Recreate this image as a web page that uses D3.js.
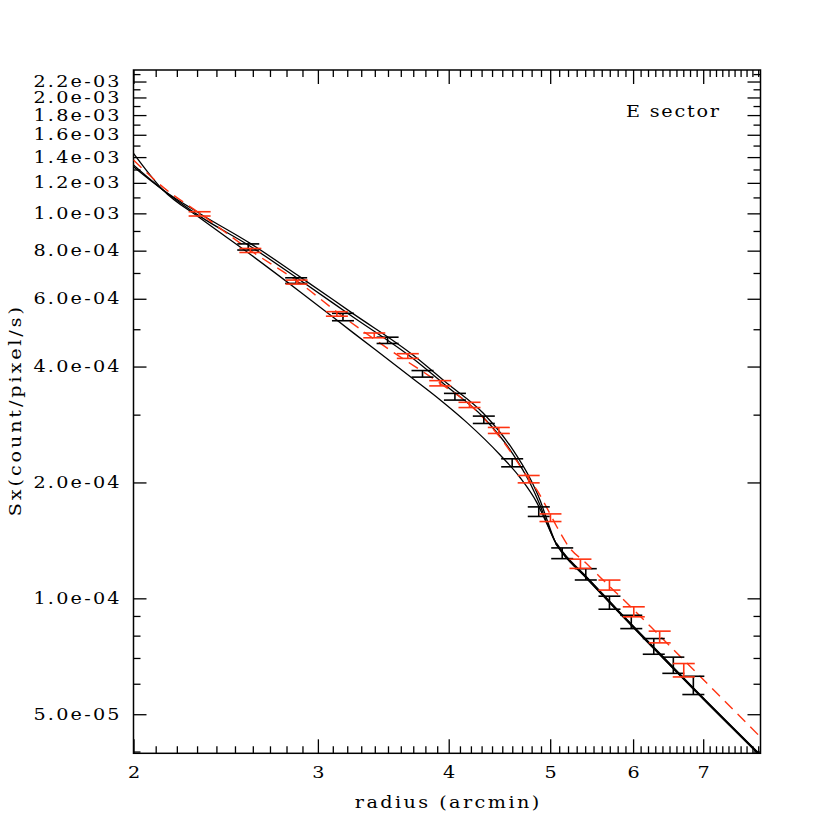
<!DOCTYPE html>
<html>
<head>
<meta charset="utf-8">
<script src="https://cdn.jsdelivr.net/npm/d3@7"></script>
<style>
  body { margin: 0; background: #fff; }
  text { font-family: "DejaVu Serif", serif; font-size: 16px; fill: #000; }
</style>
</head>
<body>
<svg></svg>
<script>
const width = 830;
const height = 830;

// measured points (radius in arcmin, surface brightness)
const blackR = [2.574, 2.860, 3.170, 3.497, 3.776, 4.055, 4.321, 4.599, 4.876, 5.134, 5.407, 5.696, 5.976, 6.279, 6.555, 6.850];
const blackS = [8.18e-4, 6.69e-4, 5.38e-4, 4.68e-4, 3.83e-4, 3.34e-4, 2.91e-4, 2.25e-4, 1.68e-4, 1.31e-4, 1.155e-4, 9.75e-5, 8.69e-5, 7.51e-5, 6.71e-5, 5.95e-5];
const blackErr = [1.5e-5, 1.12e-5, 1.19e-5, 8.8e-6, 7.5e-6, 6.7e-6, 6.4e-6, 5.4e-6, 4.8e-6, 4.2e-6, 3.9e-6, 3.8e-6, 3.46e-6, 3.52e-6, 3.25e-6, 3.25e-6];

const redR = [2.313, 2.586, 2.863, 3.128, 3.396, 3.656, 3.926, 4.187, 4.466, 4.769, 5.003, 5.344, 5.696, 6.009, 6.361, 6.707];
const redS = [9.97e-4, 8.01e-4, 6.63e-4, 5.48e-4, 4.82e-4, 4.26e-4, 3.62e-4, 3.18e-4, 2.73e-4, 2.04e-4, 1.62e-4, 1.23e-4, 1.083e-4, 9.23e-5, 7.94e-5, 6.51e-5];
const redErr = [1.28e-5, 9.6e-6, 7.9e-6, 7.4e-6, 6.9e-6, 6.0e-6, 5.7e-6, 5.0e-6, 4.9e-6, 4.5e-6, 3.7e-6, 3.4e-6, 3.24e-6, 2.76e-6, 2.78e-6, 2.61e-6];

// black model curves (upper / middle / lower), they join into one tail
const upperR = [2.000, 2.134, 2.315, 2.583, 2.884, 3.241, 3.698, 3.985, 4.314, 4.607, 4.783, 4.889, 4.965, 5.064];
const upperS = [1.321e-3, 1.150e-3, 9.98e-4, 8.37e-4, 6.84e-4, 5.49e-4, 4.285e-4, 3.62e-4, 3.03e-4, 2.43e-4, 2.05e-4, 1.80e-4, 1.60e-4, 1.39e-4];
const middleS = [1.335e-3, 1.150e-3, 9.82e-4, 8.225e-4, 6.71e-4, 5.38e-4, 4.196e-4, 3.549e-4, 2.957e-4, 2.37e-4, 1.993e-4, 1.747e-4, 1.569e-4, 1.39e-4];
const lowerR = [2.000, 2.134, 2.315, 2.583, 2.884, 3.241, 3.698, 3.924, 4.164, 4.477, 4.679, 4.857, 4.965, 5.064];
const lowerS = [1.432e-3, 1.150e-3, 9.72e-4, 7.84e-4, 6.26e-4, 4.90e-4, 3.72e-4, 3.28e-4, 2.86e-4, 2.36e-4, 2.06e-4, 1.77e-4, 1.56e-4, 1.39e-4];
const tailR = [5.064, 5.143, 5.421, 5.829, 6.268, 6.842, 7.940];
const tailS = [1.39e-4, 1.311e-4, 1.129e-4, 9.16e-5, 7.47e-5, 5.85e-5, 3.906e-5];

// red dashed model
const redModelR = [2.000, 2.134, 2.315, 2.583, 2.884, 3.129, 3.516, 3.924, 4.192, 4.507, 4.772, 4.857, 4.965, 5.075, 5.222, 5.397, 5.578, 5.959, 6.365, 6.842, 7.940];
const redModelS = [1.375e-3, 1.170e-3, 9.99e-4, 8.03e-4, 6.59e-4, 5.54e-4, 4.415e-4, 3.62e-4, 3.18e-4, 2.56e-4, 2.04e-4, 1.91e-4, 1.716e-4, 1.532e-4, 1.349e-4, 1.242e-4, 1.136e-4, 9.55e-5, 7.98e-5, 6.55e-5, 4.36e-5];

// axes
const xDomain = [2, 7.94];
const yDomain = [3.958e-5, 2.357e-3];
const xMajor = [2, 3, 4, 5, 6, 7];
const xLabels = ["2", "3", "4", "5", "6", "7"];
const yMajor = [5e-5, 1e-4, 2e-4, 4e-4, 6e-4, 8e-4, 1e-3, 1.2e-3, 1.4e-3, 1.6e-3, 1.8e-3, 2.0e-3, 2.2e-3];
const yLabels = ["5.0e-05", "1.0e-04", "2.0e-04", "4.0e-04", "6.0e-04", "8.0e-04", "1.0e-03", "1.2e-03", "1.4e-03", "1.6e-03", "1.8e-03", "2.0e-03", "2.2e-03"];
const yMinor = [4e-5, 6e-5, 7e-5, 8e-5, 9e-5, 3e-4, 5e-4, 7e-4, 9e-4, 1.1e-3, 1.3e-3, 1.5e-3, 1.7e-3, 1.9e-3, 2.1e-3, 2.3e-3];
const xMinor = d3.range(21, 80).filter(d => d % 10 !== 0).map(d => d / 10);

const RED = "#ff3311";
const plotLeft = 133.5, plotRight = 760.5, plotTop = 70, plotBottom = 753.3;
const stretch = 1.2;   // plot-package glyphs are wide

const svg = d3.select('svg')
  .attr('width', width)
  .attr('height', height);

const x = d3.scaleLog().domain(xDomain).range([plotLeft, plotRight]);
const y = d3.scaleLog().domain(yDomain).range([plotBottom, plotTop]);

svg.append("defs").append("clipPath").attr("id", "plot")
  .append("rect")
  .attr("x", plotLeft).attr("y", plotTop)
  .attr("width", plotRight - plotLeft).attr("height", plotBottom - plotTop);

// widen a text horizontally and fit it to ~12.3px per character
function widen(sel) {
  sel.each(function() {
    const t = d3.select(this);
    const x0 = +(t.attr("x") || 0);
    t.attr("x", 0)
      .attr("transform", `translate(${x0},0) scale(${stretch},1)`)
      .attr("textLength", t.text().length * 12.3 / stretch)
      .attr("lengthAdjust", "spacing");
  });
}

function styleAxis(g) {
  g.select(".domain").remove();
  g.selectAll(".tick line").attr("stroke", "#000").attr("stroke-width", 1.3);
  g.selectAll("text").attr("font-family", "DejaVu Serif").attr("font-size", 16);
}

// bottom / top
svg.append("g").attr("transform", `translate(0,${plotBottom})`)
  .call(d3.axisBottom(x).tickValues(xMajor).tickSize(-14).tickPadding(13)
    .tickFormat((d, i) => xLabels[i]))
  .call(styleAxis)
  .call(g => g.selectAll("text").call(widen));
svg.append("g").attr("transform", `translate(0,${plotBottom})`)
  .call(d3.axisBottom(x).tickValues(xMinor).tickSize(-7).tickFormat(""))
  .call(styleAxis);
svg.append("g").attr("transform", `translate(0,${plotTop})`)
  .call(d3.axisTop(x).tickValues(xMajor).tickSize(-14).tickFormat(""))
  .call(styleAxis);
svg.append("g").attr("transform", `translate(0,${plotTop})`)
  .call(d3.axisTop(x).tickValues(xMinor).tickSize(-7).tickFormat(""))
  .call(styleAxis);

// left / right
svg.append("g").attr("transform", `translate(${plotLeft},0)`)
  .call(d3.axisLeft(y).tickValues(yMajor).tickSize(-13).tickPadding(14)
    .tickFormat((d, i) => yLabels[i]))
  .call(styleAxis)
  .call(g => g.selectAll("text").call(widen));
svg.append("g").attr("transform", `translate(${plotLeft},0)`)
  .call(d3.axisLeft(y).tickValues(yMinor).tickSize(-7).tickFormat(""))
  .call(styleAxis);
svg.append("g").attr("transform", `translate(${plotRight},0)`)
  .call(d3.axisRight(y).tickValues(yMajor).tickSize(-13).tickFormat(""))
  .call(styleAxis);
svg.append("g").attr("transform", `translate(${plotRight},0)`)
  .call(d3.axisRight(y).tickValues(yMinor).tickSize(-7).tickFormat(""))
  .call(styleAxis);

svg.append("rect")
  .attr("x", plotLeft).attr("y", plotTop)
  .attr("width", plotRight - plotLeft).attr("height", plotBottom - plotTop)
  .attr("fill", "none").attr("stroke", "#000").attr("stroke-width", 1.5);

// curves
const line = d3.line()
  .x(d => x(d[0]))
  .y(d => y(d[1]))
  .curve(d3.curveMonotoneX);

const curves = svg.append("g").attr("clip-path", "url(#plot)");
const zipped = (rs, ss) => rs.map((r, i) => [r, ss[i]]);
const tail = zipped(tailR, tailS);

[zipped(upperR, upperS), zipped(upperR, middleS), zipped(lowerR, lowerS)].forEach(c => {
  curves.append("path")
    .attr("d", line(c.concat(tail.slice(1))))
    .attr("fill", "none").attr("stroke", "#000").attr("stroke-width", 1.3);
});
curves.append("path")
  .attr("d", line(tail))
  .attr("fill", "none").attr("stroke", "#000").attr("stroke-width", 2.4);

curves.append("path")
  .attr("d", line(zipped(redModelR, redModelS)))
  .attr("fill", "none").attr("stroke", RED).attr("stroke-width", 1.4)
  .attr("stroke-dasharray", "11,7");

// error bars
function errorBars(rs, ss, es, color) {
  const g = svg.append("g").attr("stroke", color).attr("stroke-width", 1.6).attr("fill", "none");
  rs.forEach((r, i) => {
    const cx = x(r), y0 = y(ss[i] - es[i]), y1 = y(ss[i] + es[i]);
    g.append("line").attr("x1", cx).attr("x2", cx).attr("y1", y0).attr("y2", y1);
    g.append("line").attr("x1", cx - 11).attr("x2", cx + 11).attr("y1", y0).attr("y2", y0);
    g.append("line").attr("x1", cx - 11).attr("x2", cx + 11).attr("y1", y1).attr("y2", y1);
  });
}
errorBars(blackR, blackS, blackErr, "#000");
errorBars(redR, redS, redErr, RED);

// labels
svg.append("g").attr("transform", `translate(${(plotLeft + plotRight) / 2},808)`)
  .append("text")
  .attr("text-anchor", "middle")
  .text("radius (arcmin)")
  .call(widen);

svg.append("g").attr("transform", `translate(21,${(plotTop + plotBottom) / 2}) rotate(-90)`)
  .append("text")
  .attr("text-anchor", "middle")
  .text("Sx(count/pixel/s)")
  .call(widen);

svg.append("g").attr("transform", "translate(626,117)")
  .append("text")
  .text("E sector")
  .attr("transform", `scale(${stretch},1)`)
  .attr("textLength", 93 / stretch).attr("lengthAdjust", "spacing");
</script>
</body>
</html>
